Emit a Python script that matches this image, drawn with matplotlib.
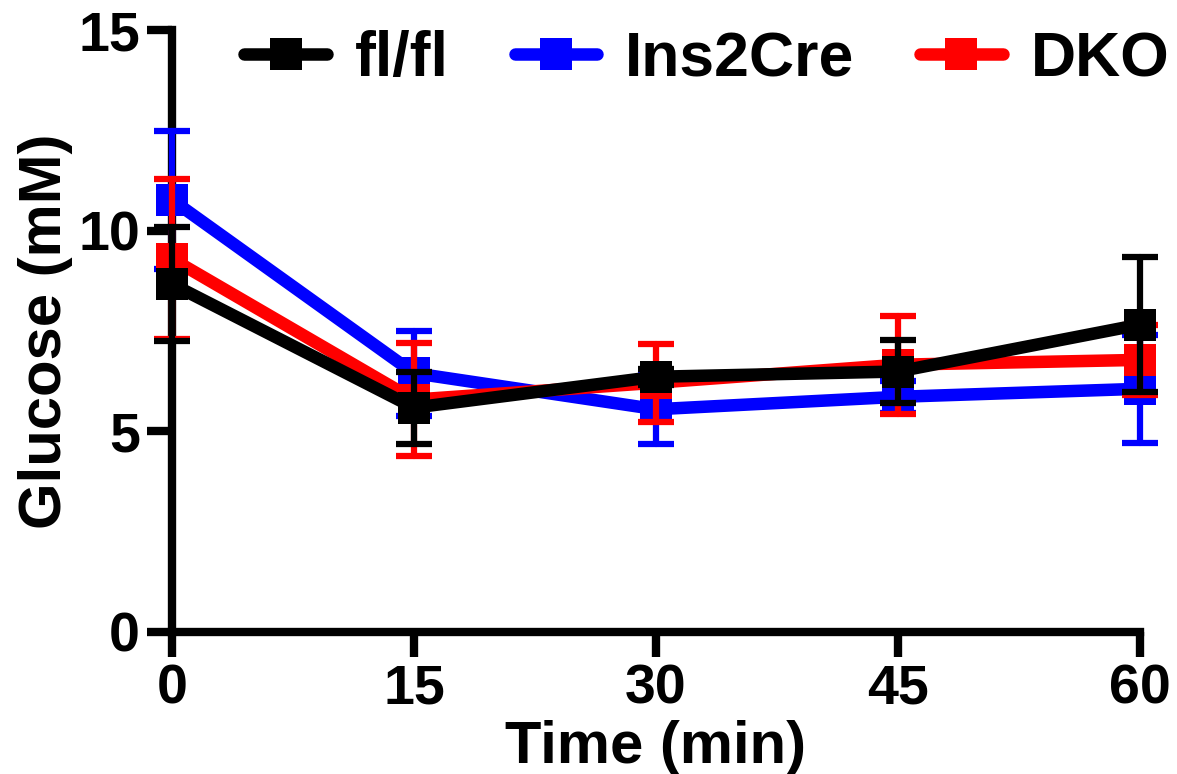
import matplotlib
matplotlib.use("Agg")
import matplotlib.pyplot as plt
import numpy as np

plt.rcParams["font.family"] = ["Liberation Sans", "DejaVu Sans"]
plt.rcParams["font.weight"] = "bold"

time_min = [0, 15, 30, 45, 60]
x_ticks = [0, 15, 30, 45, 60]
y_ticks = [0, 5, 10, 15]

flfl_mean = [8.67, 5.59, 6.36, 6.49, 7.66]
flfl_err = [1.43, 0.90, 0.20, 0.78, 1.69]

ins2cre_mean = [10.77, 6.45, 5.55, 5.86, 6.06]
ins2cre_err = [1.72, 1.06, 0.86, 0.40, 1.35]

dko_mean = [9.30, 5.79, 6.21, 6.66, 6.78]
dko_err = [2.00, 1.40, 0.97, 1.22, 0.87]

series = [
    ("Ins2Cre", ins2cre_mean, ins2cre_err, "#0000ff", 3),
    ("DKO", dko_mean, dko_err, "#ff0000", 4),
    ("fl/fl", flfl_mean, flfl_err, "#000000", 5),
]

fig = plt.figure(figsize=(11.77, 7.74), dpi=100)
ax = fig.add_axes([0.146, 0.1835, 0.8226, 0.7777])

handles = {}
for name, mean, err, color, z in series:
    # error bars first, then line + square markers on top
    cont = ax.errorbar(
        time_min, mean, yerr=err, fmt="none", ecolor=color,
        elinewidth=4.5, capsize=13, capthick=4.5, zorder=z, clip_on=False,
    )
    for cap in cont[1]:
        cap.set_clip_on(False)
    for bar in cont[2]:
        bar.set_clip_on(False)
        bar.set_capstyle("round")
    (ln,) = ax.plot(
        time_min, mean, color=color, lw=9, marker="s", ms=23,
        mec=color, mew=0, zorder=z + 0.5, clip_on=False,
        solid_capstyle="round",
    )
    handles[name] = ln

ax.set_xlim(0, 60)
ax.set_ylim(0, 15)
ax.set_xticks(x_ticks)
ax.set_yticks(y_ticks)
ax.tick_params(width=6, length=18, labelsize=40, pad=5)
for lab in ax.get_xticklabels() + ax.get_yticklabels():
    lab.set_fontweight("bold")
for side in ["top", "right"]:
    ax.spines[side].set_visible(False)
for side in ["left", "bottom"]:
    ax.spines[side].set_linewidth(6)

ax.set_xlabel("Time (min)", fontsize=43, fontweight="bold", labelpad=3)
ax.set_ylabel("Glucose (mM)", fontsize=43, fontweight="bold", labelpad=4)

order = ["fl/fl", "Ins2Cre", "DKO"]
leg = ax.legend(
    [handles[n] for n in order], order, loc="upper left", ncol=3,
    bbox_to_anchor=(0.075, 1.0), frameon=False, fontsize=45,
    handlelength=1.32, columnspacing=1.05, handletextpad=0.45,
    borderaxespad=0, borderpad=0,
)
for t in leg.get_texts():
    t.set_fontweight("bold")

fig.savefig("out.png", dpi=100)
